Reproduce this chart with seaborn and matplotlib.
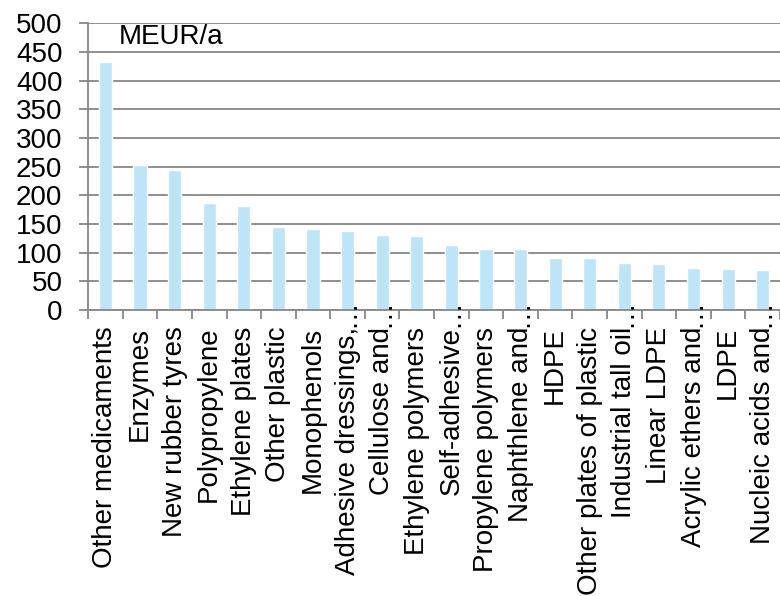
"""Bar chart of product values (MEUR/a)."""

import matplotlib

matplotlib.use("Agg")
import matplotlib.pyplot as plt
import seaborn as sns


CATEGORIES = [
    "Other medicaments",
    "Enzymes",
    "New rubber tyres",
    "Polypropylene",
    "Ethylene plates",
    "Other plastic",
    "Monophenols",
    "Adhesive dressings,\u2026",
    "Cellulose and\u2026",
    "Ethylene polymers",
    "Self-adhesive\u2026",
    "Propylene polymers",
    "Naphthlene and\u2026",
    "HDPE",
    "Other plates of plastic",
    "Industrial tall oil\u2026",
    "Linear LDPE",
    "Acrylic ethers and\u2026",
    "LDPE",
    "Nucleic acids and\u2026",
]
VALUES = [432, 252, 244, 186, 181, 144, 142, 138, 130, 129,
          114, 107, 106, 90, 90, 82, 80, 73, 72, 70]
Y_TICKS = list(range(0, 501, 50))
UNIT_LABEL = "MEUR/a"

BAR_COLOR = "#bde4f7"
LINE_COLOR = "#868686"
ELLIPSIS = "\u2026"


def main() -> None:
    sns.set_theme(style="white")
    plt.rcParams["font.family"] = ["Liberation Sans", "DejaVu Sans"]

    fig = plt.figure(figsize=(7.8, 5.96), dpi=100)
    ax = fig.add_axes([0.113, 0.48, 0.887, 0.481])

    sns.barplot(x=CATEGORIES, y=VALUES, color=BAR_COLOR, saturation=1,
                width=0.38, ax=ax)

    ax.set_ylim(0, 500)
    ax.set_xlim(-0.5, len(CATEGORIES) - 0.5)
    ax.set_yticks(Y_TICKS)
    ax.set_axisbelow(True)
    ax.yaxis.grid(True, color=LINE_COLOR, linewidth=1.3)
    ax.xaxis.grid(False)

    for side in ["top", "right"]:
        ax.spines[side].set_visible(False)
    for side in ["left", "bottom"]:
        ax.spines[side].set_color(LINE_COLOR)
        ax.spines[side].set_linewidth(1.3)

    # truncated labels: like the original, the "…" overflows past the axis
    tick_labels = [c.rstrip(ELLIPSIS) for c in CATEGORIES]
    ax.set_xticks(range(len(CATEGORIES)))
    ax.set_xticklabels(tick_labels)
    for i, c in enumerate(CATEGORIES):
        if c.endswith(ELLIPSIS):
            ax.annotate(ELLIPSIS, xy=(i, 0), xycoords=("data", "axes fraction"),
                        xytext=(0, -2), textcoords="offset points", rotation=90,
                        ha="center", va="center", fontsize=20, color="black",
                        annotation_clip=False)

    ax.tick_params(axis="y", which="major", left=True, length=6.5, width=1.3,
                   color=LINE_COLOR, pad=12, labelsize=20, labelcolor="black")
    ax.tick_params(axis="x", which="major", length=0, pad=12, labelsize=20,
                   labelcolor="black", labelrotation=90)
    ax.set_xticks([i - 0.5 for i in range(len(CATEGORIES) + 1)], minor=True)
    ax.tick_params(axis="x", which="minor", bottom=True, length=6.5, width=1.3,
                   color=LINE_COLOR)

    ax.text(0.044, 0.951, UNIT_LABEL, transform=ax.transAxes, fontsize=20,
            ha="left", va="center", color="black")
    ax.set_xlabel("")
    ax.set_ylabel("")

    fig.savefig("out.png", dpi=100)
    plt.close(fig)


if __name__ == "__main__":
    main()
